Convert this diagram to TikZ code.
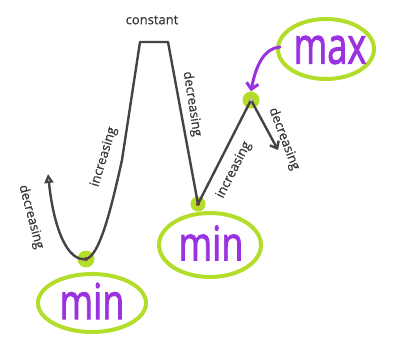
\documentclass[tikz,border=0pt]{standalone}
\usepackage{fontspec}
\setmainfont{Open Sans}
\newfontfamily\wordfont[FakeBold=2]{Open Sans}
\newfontfamily\lblfont[FakeBold=0.6]{Open Sans}
\usetikzlibrary{arrows.meta}
\definecolor{curve}{HTML}{454348}
\definecolor{hl}{HTML}{B2DD2A}
\definecolor{pur}{HTML}{9A32E0}
\definecolor{dotc}{HTML}{6A3A4A}
\tikzset{
  graphline/.style={draw=curve, line width=2.4pt, line join=round, line cap=round},
  lbl/.style={font=\lblfont\fontsize{13}{13}\selectfont, text=curve!80!black, inner sep=0pt},
  ring/.style={draw=hl, line width=4pt},
  blob/.style={circle, fill=hl, minimum size=#1, inner sep=0pt},
  pt/.style={circle, fill=dotc, minimum size=4pt, inner sep=0pt},
  bigword/.style={text=pur, font=\wordfont\fontsize{38}{38}\selectfont, inner sep=0pt, transform shape},
}
\begin{document}
\begin{tikzpicture}[x=1pt,y=-1pt]
\useasboundingbox (0,0) rectangle (393,339);
% highlight rings
\draw[ring] (92,303) ellipse [x radius=54, y radius=29];
\draw[ring] (210,245) ellipse [x radius=51, y radius=32];
\draw[ring] (326,49) ellipse [x radius=48, y radius=30];
% blobs
\node[blob=17pt] (m1b) at (86,259) {};
\node[blob=15pt] (m2b) at (198,204) {};
\node[blob=17pt] (mxb) at (251,100) {};
% graph
\coordinate (tip) at (48,174);
\coordinate (tl) at (140,42);
\coordinate (tr) at (168,42);
\coordinate (dtip) at (278,150);
\draw[graphline, {Stealth[length=9pt,width=9pt,inset=0pt, open, line width=2.4pt]}-] (tip) .. controls (54,230) and (68,262) .. (m1b.center)
  .. controls (100,256) and (112,205) .. (122,160) -- (tl) -- (tr) -- (m2b.center) -- (mxb.center);
\draw[graphline, -{Straight Barb[length=6pt,width=10pt]}] (mxb.center) -- (dtip);
% dots
\node[pt] at (m1b.center) {};
\node[pt] at (m2b.center) {};
\node[pt, fill=white!60!pur, minimum size=3.5pt] at (mxb.center) {};
% words
\node[bigword, xscale=0.95, yscale=1.3] (w1) at (92,301) {min};
\node[bigword, xscale=0.95, yscale=1.25] (w2) at (211,243) {min};
\node[bigword, xscale=0.95, yscale=1.35] (w3) at (330,50) {max};
% purple arrow
\coordinate (ps) at (280,47);
\draw[draw=pur, line width=3pt, line cap=round, -{Straight Barb[length=6pt,width=12pt]}] (ps) .. controls (265,48) and (256,64) .. (mxb.north);
% labels
\node[lbl] (c) at (152,20) {constant};
\node[lbl, rotate=73] (i1) at (104,157) {increasing};
\node[lbl, rotate=-81] (d1) at (192,104) {decreasing};
\node[lbl, rotate=-75] (d0) at (31,217) {decreasing};
\node[lbl, rotate=63] (i2) at (234,170) {increasing};
\node[lbl, rotate=-69] (d2) at (284,139) {decreasing};
\end{tikzpicture}
\end{document}
